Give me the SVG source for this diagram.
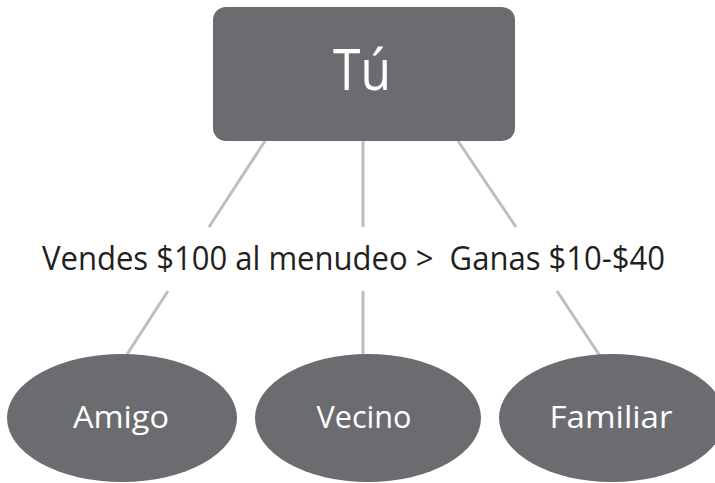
<svg xmlns="http://www.w3.org/2000/svg" width="715" height="483" viewBox="0 0 715 483">
<style>
.node{fill:#6b6c70}
.lbl{fill:#ffffff;font-family:"Open Sans","Noto Sans",sans-serif;text-anchor:middle}
.edge{stroke:#bcbec0;stroke-width:3;fill:none}
.mid{fill:#231f20;font-family:"Open Sans","Noto Sans",sans-serif;font-size:32px;white-space:pre}
</style>
<rect width="715" height="483" fill="#ffffff"/>
<g id="connectors">
<line class="edge" x1="265" y1="141" x2="209" y2="227"/>
<line class="edge" x1="363" y1="141" x2="363" y2="227"/>
<line class="edge" x1="458" y1="141" x2="516" y2="227"/>
<line class="edge" x1="168" y1="291" x2="126" y2="356"/>
<line class="edge" x1="363" y1="291" x2="363" y2="356"/>
<line class="edge" x1="557" y1="291" x2="600" y2="356"/>
</g>
<g id="tu">
<rect class="node" x="213" y="7" width="302" height="134" rx="13"/>
<text class="lbl" x="362" y="90" font-size="56" textLength="58" lengthAdjust="spacingAndGlyphs">Tú</text>
</g>
<g id="label">
<text class="mid" x="42" y="270" textLength="623" lengthAdjust="spacingAndGlyphs" xml:space="preserve">Vendes $100 al menudeo &gt;  Ganas $10-$40</text>
</g>
<g id="amigo">
<ellipse class="node" cx="122" cy="418" rx="115" ry="64"/>
<text class="lbl" x="121" y="428" font-size="31" textLength="96" lengthAdjust="spacingAndGlyphs">Amigo</text>
</g>
<g id="vecino">
<ellipse class="node" cx="368" cy="418" rx="113" ry="64"/>
<text class="lbl" x="364" y="428" font-size="31" textLength="95" lengthAdjust="spacingAndGlyphs">Vecino</text>
</g>
<g id="familiar">
<ellipse class="node" cx="612" cy="418" rx="113" ry="64"/>
<text class="lbl" x="611" y="428" font-size="31" textLength="123" lengthAdjust="spacingAndGlyphs">Familiar</text>
</g>
</svg>
